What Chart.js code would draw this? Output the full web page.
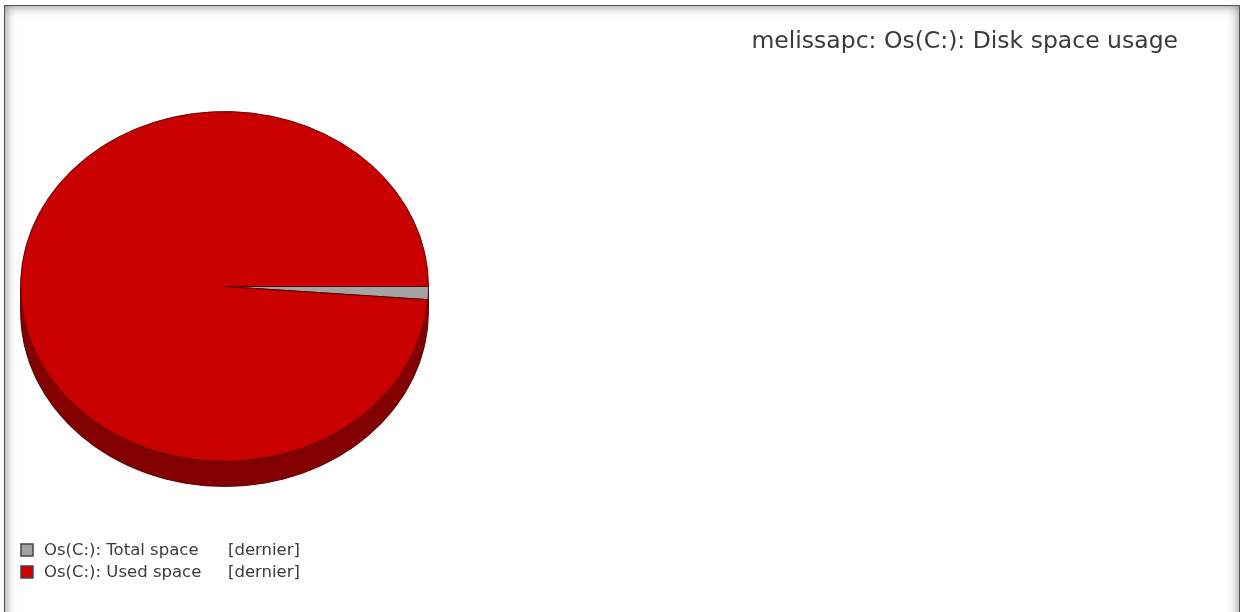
<!DOCTYPE html>
<html>
<head>
<meta charset="utf-8">
<script src="https://cdn.jsdelivr.net/npm/chart.js@4.4.0/dist/chart.umd.min.js"></script>
<style>
  html, body { margin: 0; padding: 0; background: #fff; }
  #wrap { position: relative; width: 1242px; height: 612px; overflow: hidden; }
  #frame {
    position: absolute; left: 4px; top: 5px; width: 1234px; height: 620px;
    border: 1px solid #555; box-shadow: inset 0 0 11px rgba(0, 0, 0, 0.5);
    pointer-events: none;
  }
  canvas { position: absolute; left: 0; top: 0; }
</style>
</head>
<body>
<div id="wrap">
  <canvas id="myChart" width="1242" height="612" style="width:1242px;height:612px"></canvas>
  <div id="frame"></div>
</div>
<script>
"use strict";
// data
const chartTitle = "melissapc: Os(C:): Disk space usage";
const labels = ["Os(C:): Total space", "Os(C:): Used space"];
const values = [1.2, 98.8];
const legendSuffix = "[dernier]";
const sliceColors = ["#a3a3a3", "#c80000"];
const legendColors = ["#a0a0a0", "#d00000"];

const sideColor = "#820000";
const edgeColor = "#5a0000";
const tilt = 175 / 204;
const depth = 25;

// fake 3d: squash the pie into an ellipse and draw a dark rim under it
const pie3d = {
  id: "pie3d",
  beforeDatasetsDraw(chart) {
    const arc = chart.getDatasetMeta(0).data[0];
    const cx = arc.x, cy = arc.y, r = arc.outerRadius;
    const ctx = chart.ctx;
    ctx.save();
    ctx.translate(0, cy);
    ctx.scale(1, tilt);
    ctx.translate(0, -cy);
    const d = depth / tilt;
    ctx.save();
    ctx.fillStyle = sideColor;
    ctx.strokeStyle = edgeColor;
    ctx.lineWidth = 1;
    ctx.beginPath();
    ctx.moveTo(cx - r, cy);
    ctx.lineTo(cx - r, cy + d);
    ctx.arc(cx, cy + d, r, Math.PI, 0, true);
    ctx.lineTo(cx + r, cy);
    ctx.closePath();
    ctx.fill();
    ctx.stroke();
    ctx.restore();
  },
  afterDatasetsDraw(chart) {
    chart.ctx.restore();
  },
};

// title top right + legend bottom left
const textBits = {
  id: "textBits",
  afterDraw(chart) {
    const ctx = chart.ctx;
    ctx.save();
    ctx.fillStyle = "#3a3a3a";
    ctx.font = '23.5px "DejaVu Sans"';
    ctx.textAlign = "right";
    ctx.textBaseline = "middle";
    ctx.fillText(chartTitle, 1178, 42);

    ctx.font = '16.5px "DejaVu Sans"';
    ctx.textAlign = "left";
    chart.data.labels.forEach(function (lab, i) {
      const y = 544 + i * 22;
      ctx.fillStyle = legendColors[i];
      ctx.fillRect(21, y, 12, 12);
      ctx.strokeStyle = "#444";
      ctx.lineWidth = 1.5;
      ctx.strokeRect(21, y, 12, 12);
      ctx.fillStyle = "#3a3a3a";
      ctx.fillText(lab, 44, y + 7);
      ctx.fillText(legendSuffix, 228, y + 7);
    });
    ctx.restore();
  },
};

const ctx = document.getElementById("myChart").getContext("2d");
const myChart = new Chart(ctx, {
  type: "pie",
  data: {
    labels: labels,
    datasets: [
      {
        data: values,
        backgroundColor: sliceColors,
        borderColor: edgeColor,
        borderWidth: 1,
      },
    ],
  },
  options: {
    responsive: false,
    animation: false,
    events: [],
    rotation: 90,
    layout: { padding: { left: 20, right: 813, top: 82, bottom: 121 } },
    plugins: {
      legend: { display: false },
      title: { display: false },
      tooltip: { enabled: false },
    },
  },
  plugins: [pie3d, textBits],
});
</script>
</body>
</html>
